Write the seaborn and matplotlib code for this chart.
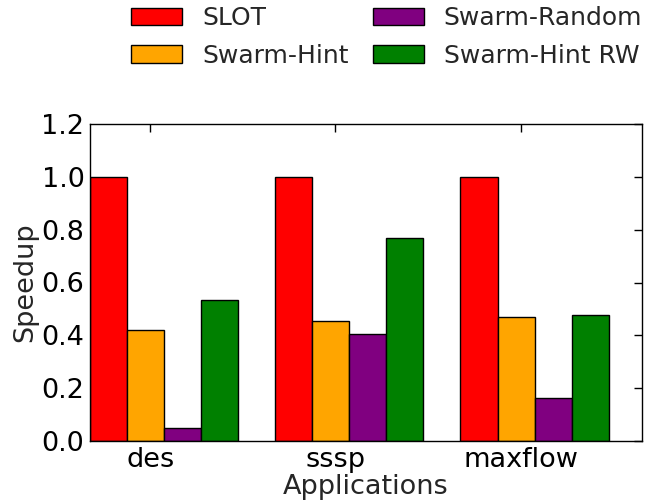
import numpy as np
import pandas as pd
import matplotlib
matplotlib.use("Agg")
import matplotlib.pyplot as plt
import seaborn as sns

applications = ["des", "sssp", "maxflow"]
systems = ["SLOT", "Swarm-Hint", "Swarm-Random", "Swarm-Hint RW"]
slot = [1.0, 1.0, 1.0]
swarm_hint = [0.421, 0.456, 0.470]
swarm_random = [0.050, 0.406, 0.164]
swarm_hint_rw = [0.534, 0.770, 0.477]
colors = ["#ff0000", "#ffa500", "#800080", "#008000"]

df = pd.DataFrame({
    "Applications": np.repeat(applications, len(systems)),
    "System": systems * len(applications),
    "Speedup": [v for row in zip(slot, swarm_hint, swarm_random, swarm_hint_rw) for v in row],
})

sns.set_style("white")
plt.rcParams["font.family"] = ["DejaVu Sans"]

fig = plt.figure(figsize=(6.47, 5.03), dpi=100)
ax = fig.add_axes([90 / 647, 1 - 441 / 503, 552 / 647, 317 / 503])

sns.barplot(data=df, x="Applications", y="Speedup", hue="System",
            hue_order=systems, palette=colors, saturation=1, width=0.8,
            edgecolor="black", linewidth=1.0, errorbar=None, legend=False, ax=ax)

ax.set_xlim(-0.4, 2.58)
ax.set_ylim(0, 1.2)
yt = np.arange(0, 1.21, 0.2)
ax.set_yticks(yt)
ax.set_yticklabels([f"{t:.1f}" for t in yt])
ax.set_xticks(np.arange(len(applications)) - 0.075)
ax.set_xticklabels(applications)

ax.tick_params(axis="both", which="major", direction="in", length=6, width=1,
               top=True, right=True, labelsize=19.5, pad=4, colors="black")
ax.set_xlabel("Applications", fontsize=19.5, labelpad=1)
ax.set_ylabel("Speedup", fontsize=19.5, labelpad=2)
for s in ax.spines.values():
    s.set_visible(True)
    s.set_color("black")
    s.set_linewidth(1.0)

handles = [plt.Rectangle((0, 0), 1, 1, facecolor=c, edgecolor="black", linewidth=1.0)
           for c in colors]
fig.legend(handles, systems, loc="upper left", bbox_to_anchor=(131 / 647, 1 - 6 / 503),
           ncol=2, frameon=False, fontsize=18, handlelength=2.05, handleheight=0.7,
           handletextpad=0.8, columnspacing=0.95, labelspacing=0.55,
           borderpad=0, borderaxespad=0)

fig.savefig("out.png", dpi=100)
